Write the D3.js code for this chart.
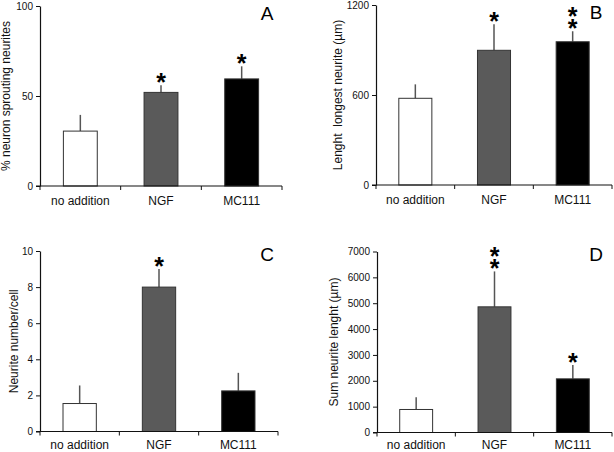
<!DOCTYPE html>
<html>
<head>
<meta charset="utf-8">
<script src="https://cdn.jsdelivr.net/npm/d3@7"></script>
<style>
  html, body { margin: 0; padding: 0; background: #fff; }
  svg { display: block; }
  text { font-family: "Liberation Sans", Arial, sans-serif; }
</style>
</head>
<body>
<svg id="chart" width="614" height="452"></svg>
<script>
// ---------- data ----------
const categories = ["no addition", "NGF", "MC111"];
const barColors = ["#ffffff", "#5a5a5a", "#000000"];

const panelLetters = ["A", "B", "C", "D"];
const yTitles = ["% neuron sprouting neurites", "Lenght  longest neurite (\u00b5m)", "Neurite number/cell", "Sum neurite lenght (\u00b5m)"];

const valuesA = [30.5, 52, 59.5];
const errorsA = [9, 4, 7];
const starsA = [0, 1, 1];
const ticksA = [0, 50, 100];

const valuesB = [578, 898, 955];
const errorsB = [93, 173, 70];
const starsB = [0, 1, 2];
const ticksB = [0, 600, 1200];

const valuesC = [1.55, 8.0, 2.25];
const errorsC = [1.0, 1.0, 1.0];
const starsC = [0, 1, 0];
const ticksC = [0, 2, 4, 6, 8, 10];

const valuesD = [890, 4860, 2075];
const errorsD = [475, 1370, 540];
const starsD = [0, 2, 1];
const ticksD = [0, 1000, 2000, 3000, 4000, 5000, 6000, 7000];

// ---------- layout ----------
const panels = [
  { values: valuesA, errors: errorsA, stars: starsA, ticks: ticksA, x0: 40, x1: 282, top: 6, bottom: 186, titleX: 10, letterX: 267, letterY: 20, catDy: 18.5 },
  { values: valuesB, errors: errorsB, stars: starsB, ticks: ticksB, x0: 376, x1: 612, top: 5, bottom: 185, titleX: 342, letterX: 596, letterY: 19, catDy: 18.5 },
  { values: valuesC, errors: errorsC, stars: starsC, ticks: ticksC, x0: 40, x1: 278, top: 251, bottom: 431.5, titleX: 18, letterX: 267, letterY: 261, catDy: 17 },
  { values: valuesD, errors: errorsD, stars: starsD, ticks: ticksD, x0: 377, x1: 612, top: 251.5, bottom: 432.5, titleX: 338, letterX: 596, letterY: 261, catDy: 16.5 }
];

const svg = d3.select("#chart");

panels.forEach((p, pi) => {
  const g = svg.append("g");
  const x = d3.scaleBand().domain(categories).range([p.x0, p.x1]).paddingInner(0.58).paddingOuter(0.29);
  const y = d3.scaleLinear().domain([0, d3.max(p.ticks)]).range([p.bottom, p.top]);
  const step = (p.x1 - p.x0) / categories.length;

  // error bars (upper half only), drawn behind bars
  g.selectAll("line.err").data(categories).join("line")
    .attr("class", "err")
    .attr("x1", d => x(d) + x.bandwidth() / 2)
    .attr("x2", d => x(d) + x.bandwidth() / 2)
    .attr("y1", (d, i) => y(p.values[i]))
    .attr("y2", (d, i) => y(p.values[i] + p.errors[i]))
    .attr("stroke", "#555")
    .attr("stroke-width", 1.5);

  // bars
  g.selectAll("rect.bar").data(categories).join("rect")
    .attr("class", "bar")
    .attr("x", d => x(d))
    .attr("width", x.bandwidth())
    .attr("y", (d, i) => y(p.values[i]))
    .attr("height", (d, i) => p.bottom - y(p.values[i]))
    .attr("fill", (d, i) => barColors[i])
    .attr("stroke", "#333")
    .attr("stroke-width", 1);

  // y axis
  const yAxis = d3.axisLeft(y).tickValues(p.ticks).tickSize(4).tickSizeOuter(0).tickPadding(3).tickFormat(d3.format("d"));
  const ya = g.append("g").attr("transform", `translate(${p.x0},0)`).call(yAxis);
  ya.select(".domain").attr("stroke", "#111").attr("stroke-width", 1.2);
  ya.selectAll(".tick line").attr("stroke", "#111");
  ya.selectAll(".tick text").attr("font-size", 10).attr("fill", "#111")
    .style("font-family", '"Liberation Sans", Arial, sans-serif');

  // x axis line with category boundary ticks
  g.append("line")
    .attr("x1", p.x0 - 4).attr("x2", p.x1)
    .attr("y1", p.bottom).attr("y2", p.bottom)
    .attr("stroke", "#111").attr("stroke-width", 1.2);
  g.selectAll("line.xtick").data(d3.range(categories.length + 1)).join("line")
    .attr("class", "xtick")
    .attr("x1", i => p.x0 + i * step).attr("x2", i => p.x0 + i * step)
    .attr("y1", p.bottom).attr("y2", p.bottom + 4)
    .attr("stroke", "#111");

  // category labels
  g.selectAll("text.cat").data(categories).join("text")
    .attr("class", "cat")
    .attr("x", d => x(d) + x.bandwidth() / 2)
    .attr("y", p.bottom + p.catDy)
    .attr("text-anchor", "middle")
    .attr("font-size", 12)
    .attr("fill", "#111")
    .text(d => d);

  // y title
  g.append("text")
    .attr("transform", `translate(${p.titleX},${(p.top + p.bottom) / 2}) rotate(-90)`)
    .attr("text-anchor", "middle")
    .attr("font-size", 12)
    .attr("fill", "#111")
    .style("white-space", "pre")
    .text(yTitles[pi]);

  // significance asterisks
  categories.forEach((c, i) => {
    for (let k = 0; k < p.stars[i]; k++) {
      const cy = y(p.values[i] + p.errors[i]) - 8 - k * 12;
      g.append("text")
        .attr("x", x(c) + x.bandwidth() / 2)
        .attr("y", cy + 14)
        .attr("text-anchor", "middle")
        .attr("font-size", 25)
        .attr("font-weight", "bold")
        .attr("fill", "#000")
        .text("*");
    }
  });

  // panel letter
  g.append("text")
    .attr("x", p.letterX)
    .attr("y", p.letterY)
    .attr("text-anchor", "middle")
    .attr("font-size", 19)
    .attr("fill", "#000")
    .text(panelLetters[pi]);
});
</script>
</body>
</html>
